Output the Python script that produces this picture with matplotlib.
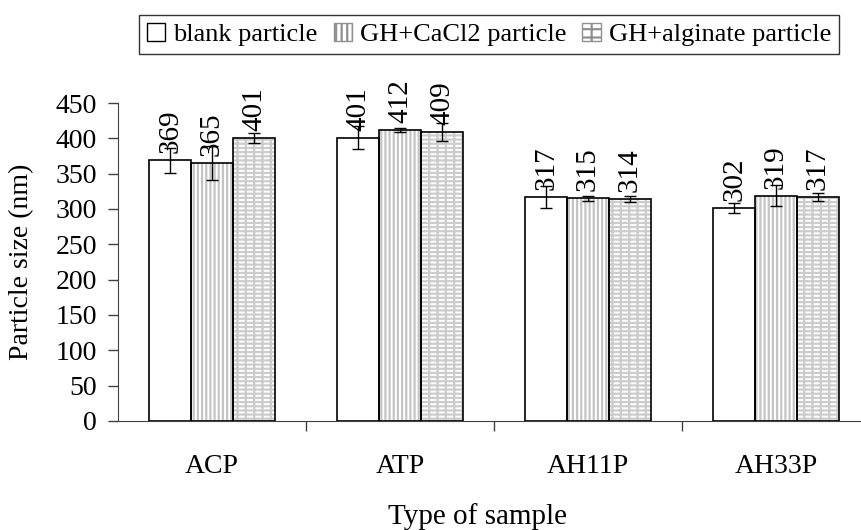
import numpy as np
import matplotlib
matplotlib.use('Agg')
import matplotlib.pyplot as plt
from matplotlib.patches import Patch

plt.rcParams['font.family'] = ['Liberation Serif', 'DejaVu Serif']
plt.rcParams['hatch.linewidth'] = 1.6

# data
samples = ['ACP', 'ATP', 'AH11P', 'AH33P']
series = ['blank particle', 'GH+CaCl2 particle', 'GH+alginate particle']
blank = [369, 401, 317, 302]
cacl2 = [365, 412, 315, 319]
alginate = [401, 409, 314, 317]
blank_err = [18, 16, 15, 7]
cacl2_err = [24, 3, 4, 15]
alginate_err = [7, 13, 4, 5]
yticks = [0, 50, 100, 150, 200, 250, 300, 350, 400, 450]

values = [blank, cacl2, alginate]
errors = [blank_err, cacl2_err, alginate_err]
hatches = [None, '||||', '----||']
hatch_colors = ['black', '#c4c4c4', '#cccccc']
fs = 20

fig = plt.figure(figsize=(8.61, 5.30), dpi=100)
# the plot area runs a bit past the right edge, like the original
ax = fig.add_axes([118 / 861, 109 / 530, 752 / 861, 318 / 530])

x = np.arange(len(samples))
w = 0.223
for i in range(3):
    pos = x + (i - 1) * w
    if hatches[i]:
        ax.bar(pos, values[i], w, color='white', hatch=hatches[i],
               edgecolor=hatch_colors[i], linewidth=0, zorder=2)
    ax.bar(pos, values[i], w, fill=(hatches[i] is None), facecolor='white',
           edgecolor='black', linewidth=1.2, zorder=3)
    ax.errorbar(pos, values[i], yerr=errors[i], fmt='none', ecolor='black',
                elinewidth=1, capsize=4, capthick=1, zorder=4)
    for p, v in zip(pos, values[i]):
        ax.annotate(str(v), (p, v), xytext=(0, 5), textcoords='offset points',
                    rotation=90, ha='center', va='bottom', fontsize=21, zorder=5)

ax.set_xlim(-0.5, 3.5)
ax.set_ylim(0, 450)
ax.set_yticks(yticks)
ax.set_xticks(x)
ax.set_xticklabels(samples)
ax.set_xticks(np.arange(0.5, 3.5, 1), minor=True)
ax.tick_params(axis='x', which='major', length=0, pad=24, labelsize=fs)
ax.tick_params(axis='x', which='minor', length=7, width=1, color='#404040')
ax.tick_params(axis='y', length=7, width=1, color='#404040', pad=8, labelsize=fs)
ax.spines['top'].set_visible(False)
ax.spines['right'].set_visible(False)
ax.spines['left'].set_color('#404040')
ax.spines['bottom'].set_color('#404040')
ax.set_xlabel('Type of sample', fontsize=21, va='center')
ax.xaxis.set_label_coords((477 - 118) / 752, -(517 - 421) / 318)
ax.set_ylabel('Particle size (nm)', fontsize=20, va='center')
ax.yaxis.set_label_coords((22 - 118) / 752, 0.5)

handles = [Patch(facecolor='white', edgecolor='black', label=series[0]),
           Patch(facecolor='white', edgecolor='#909090', hatch='|||', label=series[1]),
           Patch(facecolor='white', edgecolor='#909090', hatch='--|', label=series[2])]
leg = fig.legend(handles=handles, loc='upper center', ncol=3,
                 bbox_to_anchor=(489 / 861, 1 - 15 / 530), fontsize=19,
                 frameon=True, fancybox=False, edgecolor='black',
                 handlelength=0.7, handleheight=0.7, handletextpad=0.3,
                 columnspacing=0.6, borderpad=0.3, borderaxespad=0)
leg.get_frame().set_linewidth(1)

fig.savefig('out.png', dpi=100)
